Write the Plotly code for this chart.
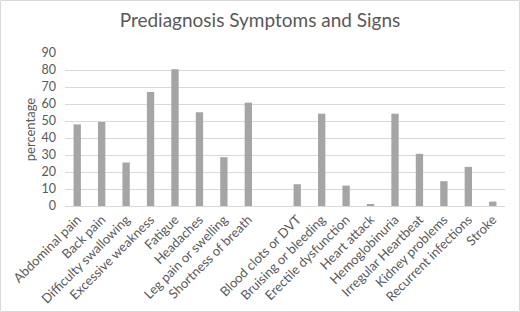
import plotly.graph_objects as go

categories = ["Abdominal pain", "Back pain", "Difficulty swallowing", "Excessive weakness",
              "Fatigue", "Headaches", "Leg pain or swelling", "Shortness of breath", " ",
              "Blood clots or DVT", "Bruising or bleeding", "Erectile dysfunction",
              "Heart attack", "Hemoglobinuria", "Irregular Heartbeat", "Kidney problems",
              "Recurrent infections", "Stroke"]
values = [48.0, 49.4, 25.6, 67.1, 80.5, 55.1, 28.7, 60.8, None,
          12.8, 54.3, 12.0, 0.8, 54.3, 30.7, 14.6, 23.0, 2.6]
y_ticks = [0, 10, 20, 30, 40, 50, 60, 70, 80, 90]

W, H = 520, 312
L, R, T, B = 65, 15, 53, 106
pw, ph = W - L - R, H - T - B

fig = go.Figure(go.Bar(x=categories, y=values, marker_color="#a5a5a5",
                       marker_line_width=0))

def px_x(p):
    return (p - L) / pw

def px_y(p):
    return (H - B - p) / ph

fig.update_layout(
    width=W, height=H,
    margin=dict(l=L, r=R, t=T, b=B, autoexpand=False),
    paper_bgcolor="white", plot_bgcolor="white",
    font=dict(family="Lato, 'Open Sans', sans-serif", color="#595959", size=12),
    title=dict(text="Prediagnosis Symptoms and Signs", x=0.5, xanchor="center",
               y=1 - 20 / H, yanchor="middle",
               font=dict(size=19, color="#595959")),
    bargap=0.7,
    showlegend=False,
    xaxis=dict(type="category", categoryorder="array", categoryarray=categories,
               tickangle=-45, showgrid=False, showline=True, linecolor="#d9d9d9",
               ticks="", tickfont=dict(size=13, color="#595959"), automargin=False,
               range=[-0.5, len(categories) - 0.5]),
    yaxis=dict(range=[0, 90], tickvals=y_ticks, showgrid=True, gridcolor="#d9d9d9",
               zeroline=False, showline=False, ticks="", automargin=False,
               ticklabelstandoff=8,
               tickfont=dict(size=12.5, color="#595959"),
               title=dict(text="percentage", font=dict(size=13, color="#595959"), standoff=2)),
    shapes=[dict(type="rect", xref="paper", yref="paper",
                 x0=px_x(0.5), x1=px_x(W - 0.5), y0=px_y(H - 0.5), y1=px_y(0.5),
                 line=dict(color="#d9d9d9", width=1), fillcolor="rgba(0,0,0,0)",
                 layer="below")],
)

fig.write_html("out.html", config={"displayModeBar": False},
               post_script="document.body.style.margin='0';")
